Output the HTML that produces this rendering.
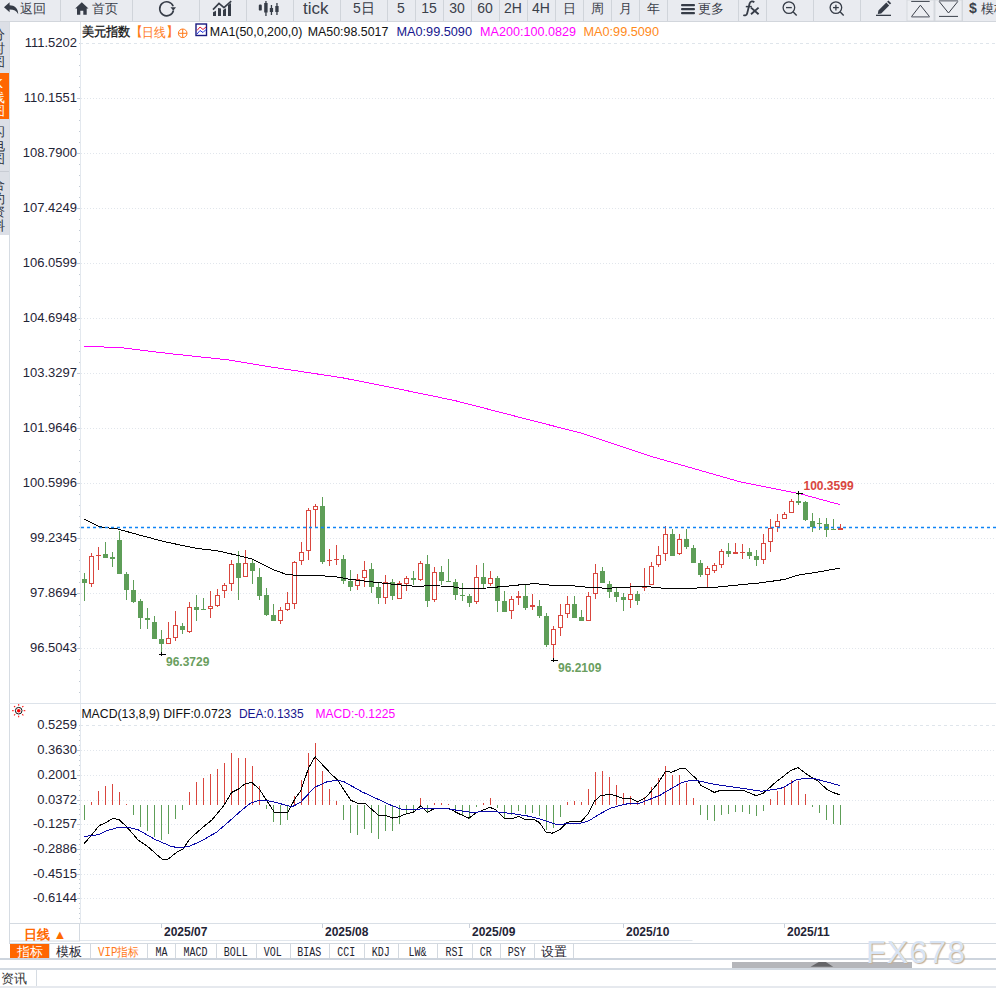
<!DOCTYPE html>
<html><head><meta charset="utf-8">
<style>
html,body{margin:0;padding:0;}
body{width:996px;height:988px;position:relative;overflow:hidden;background:#fff;font-family:"Liberation Sans", sans-serif;}
#tb{position:absolute;left:0;top:0;width:996px;height:21px;background:#e9ebf0;border-bottom:1px solid #d2d6dc;}
.sep{position:absolute;top:0;width:1px;height:21px;background:#d0d4da;}
.tbt{position:absolute;top:0;height:21px;line-height:17px;font-size:13px;color:#3b404a;white-space:nowrap;}
#side{position:absolute;left:0;top:22px;width:9px;height:213px;background:#dcdfe6;overflow:hidden;}
.tab{position:absolute;left:-9px;width:15px;font-size:13px;line-height:13.5px;color:#2a2f3a;text-align:center;}
svg text.ax{font-size:13px;fill:#1f2436;}
svg text.tt{font-size:13px;}
svg text.lbl{font-size:12px;font-weight:bold;}
svg text.xl{font-size:12px;font-weight:bold;fill:#1f2436;}
svg text.rx{font-size:13px;font-weight:bold;fill:#ff6a00;}
#btabs{position:absolute;left:9px;top:943px;width:987px;height:15px;border-top:1px solid #d3d9e0;border-bottom:1px solid #c9d0d8;background:#fff;}
.bt{position:absolute;top:0;height:15px;line-height:15px;font-size:12px;text-align:center;color:#1e2330;border-right:1px solid #d3d9e0;font-family:"Liberation Mono",monospace;}
</style></head><body>
<div id="tb">
<div class="sep" style="left:60px"></div><div class="sep" style="left:132px"></div><div class="sep" style="left:199px"></div><div class="sep" style="left:246px"></div><div class="sep" style="left:293px"></div><div class="sep" style="left:340px"></div><div class="sep" style="left:387px"></div><div class="sep" style="left:415px"></div><div class="sep" style="left:443px"></div><div class="sep" style="left:471px"></div><div class="sep" style="left:499px"></div><div class="sep" style="left:527px"></div><div class="sep" style="left:555px"></div><div class="sep" style="left:583px"></div><div class="sep" style="left:611px"></div><div class="sep" style="left:639px"></div><div class="sep" style="left:667px"></div><div class="sep" style="left:738px"></div><div class="sep" style="left:766px"></div><div class="sep" style="left:813px"></div><div class="sep" style="left:860px"></div><div class="sep" style="left:907px"></div><div class="sep" style="left:934px"></div><div class="sep" style="left:962px"></div>
<svg style="position:absolute;left:0;top:0" width="996" height="21">
 <path d="M4,7.3 L9.6,2.3 L9.6,5.2 C14.5,5.2 18.2,8 18.2,14.2 C16.5,11 14,9.6 9.6,9.6 L9.6,12.3 Z" fill="#363c47"/>
 <path d="M75.2,8.6 L81.8,2.2 L88.5,8.6 L86.7,8.6 L86.7,14.7 L83.3,14.7 L83.3,10.8 L80.3,10.8 L80.3,14.7 L77,14.7 L77,8.6 Z" fill="#363c47"/>
 <path d="M173.2,6.2 A7,7 0 1 0 173.5,10.5" fill="none" stroke="#363c47" stroke-width="1.6"/>
 <path d="M170.5,7.2 L176,7.2 L173.3,10.8 Z" fill="#363c47"/>
 <path d="M213,16 L213,12.3 L216,10.8 L216,16 Z M218,16 L218,8 L221,8.5 L221,16 Z M223,16 L223,10 L226,8.2 L226,16 Z M228,16 L228,5 L231,3 L231,16 Z" fill="#363c47"/>
 <polyline points="213,9.6 219,3.4 224,7.6 231.2,1.2" fill="none" stroke="#363c47" stroke-width="1.6"/>
 <rect x="258.8" y="4.6" width="3" height="6" rx="1.2" fill="#363c47"/>
 <rect x="265.3" y="1" width="1.3" height="15" fill="#363c47"/><rect x="264.2" y="3" width="3.4" height="9.5" fill="#363c47"/>
 <rect x="270.8" y="5" width="1.3" height="10" fill="#363c47"/><rect x="269.8" y="8" width="3.3" height="4" fill="#363c47"/>
 <rect x="276.3" y="3" width="1.3" height="12" fill="#363c47"/><rect x="275.3" y="6" width="3.3" height="6" fill="#363c47"/>
 <path d="M754.2,2.4 C753,0.9 750.3,1 749.6,3.6 L747.2,13.2 C746.6,15.4 745,15.9 743.4,14.9" fill="none" stroke="#363c47" stroke-width="1.8"/><line x1="745.8" y1="6.6" x2="751.8" y2="6.6" stroke="#363c47" stroke-width="1.5"/><path d="M751,7.6 L758.6,14.2 M758.6,7.6 L751,14.2" stroke="#363c47" stroke-width="1.9"/>
 <rect x="681" y="4" width="14" height="2.2" rx="1" fill="#363c47"/><rect x="681" y="8" width="14" height="2.2" rx="1" fill="#363c47"/><rect x="681" y="12" width="14" height="2.2" rx="1" fill="#363c47"/>
 <circle cx="788.9" cy="7.6" r="5.8" fill="none" stroke="#363c47" stroke-width="1.3"/><line x1="786" y1="7.6" x2="791.8" y2="7.6" stroke="#363c47" stroke-width="1.3"/><line x1="793" y1="11.8" x2="796.7" y2="15.6" stroke="#363c47" stroke-width="1.4"/>
 <circle cx="835.9" cy="7.6" r="5.8" fill="none" stroke="#363c47" stroke-width="1.3"/><line x1="833" y1="7.6" x2="838.8" y2="7.6" stroke="#363c47" stroke-width="1.3"/><line x1="835.9" y1="4.7" x2="835.9" y2="10.5" stroke="#363c47" stroke-width="1.3"/><line x1="840" y1="11.8" x2="843.7" y2="15.6" stroke="#363c47" stroke-width="1.4"/>
 <path d="M877.8,14 L878.4,10.6 L886.3,2.6 L889.2,5.4 L881.2,13.4 Z M887.1,1.8 L888.4,0.5 L891.2,3.3 L889.9,4.6 Z" fill="#363c47"/><rect x="876" y="14.7" width="15" height="1.3" fill="#363c47"/>
 <rect x="907" y="0" width="27" height="21" fill="#eceef2" stroke="#d6d9de"/>
 <rect x="935" y="0" width="27" height="21" fill="#eceef2" stroke="#d6d9de"/>
 <line x1="911.2" y1="1.4" x2="929.7" y2="1.4" stroke="#3b404a" stroke-width="1"/>
 <path d="M911.5,16.6 L920.4,5.2 L929.5,16.6 Z" fill="none" stroke="#3b404a" stroke-width="1"/><line x1="911.5" y1="16.8" x2="929.5" y2="16.8" stroke="#8a8e96" stroke-width="1.6"/>
 <line x1="939" y1="0.8" x2="958" y2="0.8" stroke="#8a8e96" stroke-width="1.6"/>
 <path d="M939.2,1.5 L948.5,13 L957.8,1.5" fill="none" stroke="#3b404a" stroke-width="1"/><line x1="939" y1="16.4" x2="958" y2="16.4" stroke="#3b404a" stroke-width="1"/>
</svg>
<div class="tbt" style="left:20px;width:26px">返回</div>
<div class="tbt" style="left:92px">首页</div>
<div class="tbt" style="left:303px;font-size:17px;top:0px">tick</div>
<div class="tbt" style="left:353px;font-size:14px">5日</div>
<div class="tbt" style="left:387px;width:28px;text-align:center;font-size:14px;line-height:17px">5</div><div class="tbt" style="left:415px;width:28px;text-align:center;font-size:14px;line-height:17px">15</div><div class="tbt" style="left:443px;width:28px;text-align:center;font-size:14px;line-height:17px">30</div><div class="tbt" style="left:471px;width:28px;text-align:center;font-size:14px;line-height:17px">60</div><div class="tbt" style="left:499px;width:28px;text-align:center;font-size:14px;line-height:17px">2H</div><div class="tbt" style="left:527px;width:28px;text-align:center;font-size:14px;line-height:17px">4H</div><div class="tbt" style="left:555px;width:28px;text-align:center;font-size:13px;line-height:18px">日</div><div class="tbt" style="left:583px;width:28px;text-align:center;font-size:13px;line-height:18px">周</div><div class="tbt" style="left:611px;width:28px;text-align:center;font-size:13px;line-height:18px">月</div><div class="tbt" style="left:639px;width:28px;text-align:center;font-size:13px;line-height:18px">年</div>
<div class="tbt" style="left:698px">更多</div>

<div class="tbt" style="left:969px;font-weight:bold;font-size:14px">$ <span style="font-weight:normal;font-size:13px">模板</span></div>
</div>
<div id="side">
 <div class="tab" style="top:6px">分<br>时<br>图</div>
 <div style="position:absolute;left:0;top:51px;width:9px;height:46px;background:#ff6600"></div>
 <div class="tab" style="top:55px;color:#fff">K<br>线<br>图</div>
 <div class="tab" style="top:103px">闪<br>电<br>图</div>
 <div style="position:absolute;left:0;top:149px;width:9px;height:1px;background:#c8ccd4"></div>
 <div class="tab" style="top:156px">合<br>约<br>资<br>料</div>
</div>
<div style="position:absolute;left:9px;top:22px;width:1px;height:937px;background:#d6dce3"></div>
<svg style="position:absolute;left:0;top:0" width="996" height="988">
<line x1="80" y1="43.5" x2="996" y2="43.5" stroke="#dfe5eb" stroke-width="1" stroke-dasharray="3 3"/>
<text x="77" y="47.0" text-anchor="end" class="ax">111.5202</text>
<line x1="81" y1="98.5" x2="996" y2="98.5" stroke="#e1e6ec" stroke-width="1" stroke-dasharray="1 2"/>
<text x="77" y="102.0" text-anchor="end" class="ax">110.1551</text>
<line x1="77" y1="98.5" x2="80" y2="98.5" stroke="#c5ccd6"/>
<line x1="81" y1="153.5" x2="996" y2="153.5" stroke="#e1e6ec" stroke-width="1" stroke-dasharray="1 2"/>
<text x="77" y="157.0" text-anchor="end" class="ax">108.7900</text>
<line x1="77" y1="153.5" x2="80" y2="153.5" stroke="#c5ccd6"/>
<line x1="81" y1="208.5" x2="996" y2="208.5" stroke="#e1e6ec" stroke-width="1" stroke-dasharray="1 2"/>
<text x="77" y="212.0" text-anchor="end" class="ax">107.4249</text>
<line x1="77" y1="208.5" x2="80" y2="208.5" stroke="#c5ccd6"/>
<line x1="81" y1="263.5" x2="996" y2="263.5" stroke="#e1e6ec" stroke-width="1" stroke-dasharray="1 2"/>
<text x="77" y="267.0" text-anchor="end" class="ax">106.0599</text>
<line x1="77" y1="263.5" x2="80" y2="263.5" stroke="#c5ccd6"/>
<line x1="81" y1="318.5" x2="996" y2="318.5" stroke="#e1e6ec" stroke-width="1" stroke-dasharray="1 2"/>
<text x="77" y="322.0" text-anchor="end" class="ax">104.6948</text>
<line x1="77" y1="318.5" x2="80" y2="318.5" stroke="#c5ccd6"/>
<line x1="81" y1="373.5" x2="996" y2="373.5" stroke="#e1e6ec" stroke-width="1" stroke-dasharray="1 2"/>
<text x="77" y="377.0" text-anchor="end" class="ax">103.3297</text>
<line x1="77" y1="373.5" x2="80" y2="373.5" stroke="#c5ccd6"/>
<line x1="81" y1="428.5" x2="996" y2="428.5" stroke="#e1e6ec" stroke-width="1" stroke-dasharray="1 2"/>
<text x="77" y="432.0" text-anchor="end" class="ax">101.9646</text>
<line x1="77" y1="428.5" x2="80" y2="428.5" stroke="#c5ccd6"/>
<line x1="81" y1="483.5" x2="996" y2="483.5" stroke="#e1e6ec" stroke-width="1" stroke-dasharray="1 2"/>
<text x="77" y="487.0" text-anchor="end" class="ax">100.5996</text>
<line x1="77" y1="483.5" x2="80" y2="483.5" stroke="#c5ccd6"/>
<line x1="81" y1="538.5" x2="996" y2="538.5" stroke="#e1e6ec" stroke-width="1" stroke-dasharray="1 2"/>
<text x="77" y="542.0" text-anchor="end" class="ax">99.2345</text>
<line x1="77" y1="538.5" x2="80" y2="538.5" stroke="#c5ccd6"/>
<line x1="81" y1="593.5" x2="996" y2="593.5" stroke="#e1e6ec" stroke-width="1" stroke-dasharray="1 2"/>
<text x="77" y="597.0" text-anchor="end" class="ax">97.8694</text>
<line x1="77" y1="593.5" x2="80" y2="593.5" stroke="#c5ccd6"/>
<line x1="81" y1="648.5" x2="996" y2="648.5" stroke="#e1e6ec" stroke-width="1" stroke-dasharray="1 2"/>
<text x="77" y="652.0" text-anchor="end" class="ax">96.5043</text>
<line x1="77" y1="648.5" x2="80" y2="648.5" stroke="#c5ccd6"/>
<rect x="79" y="43.0" width="1" height="1" fill="#c2cad4"/>
<rect x="79" y="54.0" width="1" height="1" fill="#c2cad4"/>
<rect x="79" y="65.0" width="1" height="1" fill="#c2cad4"/>
<rect x="79" y="76.0" width="1" height="1" fill="#c2cad4"/>
<rect x="79" y="87.0" width="1" height="1" fill="#c2cad4"/>
<rect x="79" y="98.0" width="1" height="1" fill="#c2cad4"/>
<rect x="79" y="109.0" width="1" height="1" fill="#c2cad4"/>
<rect x="79" y="120.0" width="1" height="1" fill="#c2cad4"/>
<rect x="79" y="131.0" width="1" height="1" fill="#c2cad4"/>
<rect x="79" y="142.0" width="1" height="1" fill="#c2cad4"/>
<rect x="79" y="153.0" width="1" height="1" fill="#c2cad4"/>
<rect x="79" y="164.0" width="1" height="1" fill="#c2cad4"/>
<rect x="79" y="175.0" width="1" height="1" fill="#c2cad4"/>
<rect x="79" y="186.0" width="1" height="1" fill="#c2cad4"/>
<rect x="79" y="197.0" width="1" height="1" fill="#c2cad4"/>
<rect x="79" y="208.0" width="1" height="1" fill="#c2cad4"/>
<rect x="79" y="219.0" width="1" height="1" fill="#c2cad4"/>
<rect x="79" y="230.0" width="1" height="1" fill="#c2cad4"/>
<rect x="79" y="241.0" width="1" height="1" fill="#c2cad4"/>
<rect x="79" y="252.0" width="1" height="1" fill="#c2cad4"/>
<rect x="79" y="263.0" width="1" height="1" fill="#c2cad4"/>
<rect x="79" y="274.0" width="1" height="1" fill="#c2cad4"/>
<rect x="79" y="285.0" width="1" height="1" fill="#c2cad4"/>
<rect x="79" y="296.0" width="1" height="1" fill="#c2cad4"/>
<rect x="79" y="307.0" width="1" height="1" fill="#c2cad4"/>
<rect x="79" y="318.0" width="1" height="1" fill="#c2cad4"/>
<rect x="79" y="329.0" width="1" height="1" fill="#c2cad4"/>
<rect x="79" y="340.0" width="1" height="1" fill="#c2cad4"/>
<rect x="79" y="351.0" width="1" height="1" fill="#c2cad4"/>
<rect x="79" y="362.0" width="1" height="1" fill="#c2cad4"/>
<rect x="79" y="373.0" width="1" height="1" fill="#c2cad4"/>
<rect x="79" y="384.0" width="1" height="1" fill="#c2cad4"/>
<rect x="79" y="395.0" width="1" height="1" fill="#c2cad4"/>
<rect x="79" y="406.0" width="1" height="1" fill="#c2cad4"/>
<rect x="79" y="417.0" width="1" height="1" fill="#c2cad4"/>
<rect x="79" y="428.0" width="1" height="1" fill="#c2cad4"/>
<rect x="79" y="439.0" width="1" height="1" fill="#c2cad4"/>
<rect x="79" y="450.0" width="1" height="1" fill="#c2cad4"/>
<rect x="79" y="461.0" width="1" height="1" fill="#c2cad4"/>
<rect x="79" y="472.0" width="1" height="1" fill="#c2cad4"/>
<rect x="79" y="483.0" width="1" height="1" fill="#c2cad4"/>
<rect x="79" y="494.0" width="1" height="1" fill="#c2cad4"/>
<rect x="79" y="505.0" width="1" height="1" fill="#c2cad4"/>
<rect x="79" y="516.0" width="1" height="1" fill="#c2cad4"/>
<rect x="79" y="527.0" width="1" height="1" fill="#c2cad4"/>
<rect x="79" y="538.0" width="1" height="1" fill="#c2cad4"/>
<rect x="79" y="549.0" width="1" height="1" fill="#c2cad4"/>
<rect x="79" y="560.0" width="1" height="1" fill="#c2cad4"/>
<rect x="79" y="571.0" width="1" height="1" fill="#c2cad4"/>
<rect x="79" y="582.0" width="1" height="1" fill="#c2cad4"/>
<rect x="79" y="593.0" width="1" height="1" fill="#c2cad4"/>
<rect x="79" y="604.0" width="1" height="1" fill="#c2cad4"/>
<rect x="79" y="615.0" width="1" height="1" fill="#c2cad4"/>
<rect x="79" y="626.0" width="1" height="1" fill="#c2cad4"/>
<rect x="79" y="637.0" width="1" height="1" fill="#c2cad4"/>
<rect x="79" y="648.0" width="1" height="1" fill="#c2cad4"/>
<rect x="79" y="659.0" width="1" height="1" fill="#c2cad4"/>
<rect x="79" y="670.0" width="1" height="1" fill="#c2cad4"/>
<rect x="79" y="681.0" width="1" height="1" fill="#c2cad4"/>
<rect x="79" y="692.0" width="1" height="1" fill="#c2cad4"/>
<line x1="80" y1="725.5" x2="996" y2="725.5" stroke="#dfe5eb" stroke-width="1" stroke-dasharray="3 3"/>
<text x="77" y="729.0" text-anchor="end" class="ax">0.5259</text>
<line x1="81" y1="750.5" x2="996" y2="750.5" stroke="#e1e6ec" stroke-width="1" stroke-dasharray="1 2"/>
<text x="77" y="754.0" text-anchor="end" class="ax">0.3630</text>
<line x1="77" y1="750.5" x2="80" y2="750.5" stroke="#c5ccd6"/>
<line x1="81" y1="775.5" x2="996" y2="775.5" stroke="#e1e6ec" stroke-width="1" stroke-dasharray="1 2"/>
<text x="77" y="779.0" text-anchor="end" class="ax">0.2001</text>
<line x1="77" y1="775.5" x2="80" y2="775.5" stroke="#c5ccd6"/>
<line x1="81" y1="800.5" x2="996" y2="800.5" stroke="#e1e6ec" stroke-width="1" stroke-dasharray="1 2"/>
<text x="77" y="804.0" text-anchor="end" class="ax">0.0372</text>
<line x1="77" y1="800.5" x2="80" y2="800.5" stroke="#c5ccd6"/>
<line x1="81" y1="824.5" x2="996" y2="824.5" stroke="#e1e6ec" stroke-width="1" stroke-dasharray="1 2"/>
<text x="77" y="828.0" text-anchor="end" class="ax">-0.1257</text>
<line x1="77" y1="824.5" x2="80" y2="824.5" stroke="#c5ccd6"/>
<line x1="81" y1="849.5" x2="996" y2="849.5" stroke="#e1e6ec" stroke-width="1" stroke-dasharray="1 2"/>
<text x="77" y="853.0" text-anchor="end" class="ax">-0.2886</text>
<line x1="77" y1="849.5" x2="80" y2="849.5" stroke="#c5ccd6"/>
<line x1="81" y1="874.5" x2="996" y2="874.5" stroke="#e1e6ec" stroke-width="1" stroke-dasharray="1 2"/>
<text x="77" y="878.0" text-anchor="end" class="ax">-0.4515</text>
<line x1="77" y1="874.5" x2="80" y2="874.5" stroke="#c5ccd6"/>
<line x1="81" y1="898.5" x2="996" y2="898.5" stroke="#e1e6ec" stroke-width="1" stroke-dasharray="1 2"/>
<text x="77" y="902.0" text-anchor="end" class="ax">-0.6144</text>
<line x1="77" y1="898.5" x2="80" y2="898.5" stroke="#c5ccd6"/>
<rect x="79" y="725.0" width="1" height="1" fill="#c2cad4"/>
<rect x="79" y="730.0" width="1" height="1" fill="#c2cad4"/>
<rect x="79" y="735.0" width="1" height="1" fill="#c2cad4"/>
<rect x="79" y="740.0" width="1" height="1" fill="#c2cad4"/>
<rect x="79" y="745.0" width="1" height="1" fill="#c2cad4"/>
<rect x="79" y="750.0" width="1" height="1" fill="#c2cad4"/>
<rect x="79" y="755.0" width="1" height="1" fill="#c2cad4"/>
<rect x="79" y="760.0" width="1" height="1" fill="#c2cad4"/>
<rect x="79" y="765.0" width="1" height="1" fill="#c2cad4"/>
<rect x="79" y="770.0" width="1" height="1" fill="#c2cad4"/>
<rect x="79" y="775.0" width="1" height="1" fill="#c2cad4"/>
<rect x="79" y="780.0" width="1" height="1" fill="#c2cad4"/>
<rect x="79" y="785.0" width="1" height="1" fill="#c2cad4"/>
<rect x="79" y="790.0" width="1" height="1" fill="#c2cad4"/>
<rect x="79" y="795.0" width="1" height="1" fill="#c2cad4"/>
<rect x="79" y="800.0" width="1" height="1" fill="#c2cad4"/>
<rect x="79" y="804.0" width="1" height="1" fill="#c2cad4"/>
<rect x="79" y="809.0" width="1" height="1" fill="#c2cad4"/>
<rect x="79" y="814.0" width="1" height="1" fill="#c2cad4"/>
<rect x="79" y="819.0" width="1" height="1" fill="#c2cad4"/>
<rect x="79" y="824.0" width="1" height="1" fill="#c2cad4"/>
<rect x="79" y="829.0" width="1" height="1" fill="#c2cad4"/>
<rect x="79" y="834.0" width="1" height="1" fill="#c2cad4"/>
<rect x="79" y="839.0" width="1" height="1" fill="#c2cad4"/>
<rect x="79" y="844.0" width="1" height="1" fill="#c2cad4"/>
<rect x="79" y="849.0" width="1" height="1" fill="#c2cad4"/>
<rect x="79" y="854.0" width="1" height="1" fill="#c2cad4"/>
<rect x="79" y="859.0" width="1" height="1" fill="#c2cad4"/>
<rect x="79" y="864.0" width="1" height="1" fill="#c2cad4"/>
<rect x="79" y="869.0" width="1" height="1" fill="#c2cad4"/>
<rect x="79" y="874.0" width="1" height="1" fill="#c2cad4"/>
<rect x="79" y="879.0" width="1" height="1" fill="#c2cad4"/>
<rect x="79" y="883.0" width="1" height="1" fill="#c2cad4"/>
<rect x="79" y="888.0" width="1" height="1" fill="#c2cad4"/>
<rect x="79" y="893.0" width="1" height="1" fill="#c2cad4"/>
<rect x="79" y="898.0" width="1" height="1" fill="#c2cad4"/>
<rect x="79" y="903.0" width="1" height="1" fill="#c2cad4"/>
<rect x="79" y="908.0" width="1" height="1" fill="#c2cad4"/>
<rect x="79" y="913.0" width="1" height="1" fill="#c2cad4"/>
<rect x="79" y="918.0" width="1" height="1" fill="#c2cad4"/>
<line x1="80.5" y1="22" x2="80.5" y2="923" stroke="#e3e8ee"/>
<line x1="9" y1="703.5" x2="996" y2="703.5" stroke="#dde3ea"/>
<rect x="82.0" y="579" width="5" height="4" fill="#5e9e58"/>
<rect x="84.0" y="573" width="1" height="6" fill="#5e9e58"/>
<rect x="84.0" y="583" width="1" height="18" fill="#5e9e58"/>
<rect x="89.5" y="556.5" width="4" height="27" fill="none" stroke="#d9463e" stroke-width="1"/>
<rect x="91.0" y="553" width="1" height="3" fill="#d9463e"/>
<rect x="91.0" y="584" width="1" height="3" fill="#d9463e"/>
<rect x="96.0" y="555" width="5" height="1" fill="#d9463e"/>
<rect x="98.0" y="547" width="1" height="8" fill="#d9463e"/>
<rect x="98.0" y="556" width="1" height="14" fill="#d9463e"/>
<rect x="103.0" y="554" width="5" height="4" fill="#5e9e58"/>
<rect x="105.0" y="542" width="1" height="12" fill="#5e9e58"/>
<rect x="110.0" y="557" width="5" height="2" fill="#5e9e58"/>
<rect x="112.0" y="552" width="1" height="5" fill="#5e9e58"/>
<rect x="112.0" y="559" width="1" height="8" fill="#5e9e58"/>
<rect x="117.0" y="540" width="5" height="34" fill="#5e9e58"/>
<rect x="119.0" y="531" width="1" height="9" fill="#5e9e58"/>
<rect x="124.0" y="574" width="5" height="16" fill="#5e9e58"/>
<rect x="126.0" y="572" width="1" height="2" fill="#5e9e58"/>
<rect x="126.0" y="590" width="1" height="10" fill="#5e9e58"/>
<rect x="131.0" y="590" width="5" height="12" fill="#5e9e58"/>
<rect x="133.0" y="580" width="1" height="10" fill="#5e9e58"/>
<rect x="133.0" y="602" width="1" height="1" fill="#5e9e58"/>
<rect x="138.0" y="601" width="5" height="17" fill="#5e9e58"/>
<rect x="140.0" y="599" width="1" height="2" fill="#5e9e58"/>
<rect x="140.0" y="618" width="1" height="11" fill="#5e9e58"/>
<rect x="145.0" y="618" width="5" height="2" fill="#5e9e58"/>
<rect x="147.0" y="608" width="1" height="10" fill="#5e9e58"/>
<rect x="147.0" y="620" width="1" height="9" fill="#5e9e58"/>
<rect x="152.0" y="622" width="5" height="17" fill="#5e9e58"/>
<rect x="154.0" y="616" width="1" height="6" fill="#5e9e58"/>
<rect x="159.0" y="639" width="5" height="5" fill="#5e9e58"/>
<rect x="161.0" y="630" width="1" height="9" fill="#5e9e58"/>
<rect x="161.0" y="644" width="1" height="10" fill="#5e9e58"/>
<rect x="166.5" y="638.5" width="4" height="5" fill="none" stroke="#d9463e" stroke-width="1"/>
<rect x="168.0" y="622" width="1" height="16" fill="#d9463e"/>
<rect x="173.5" y="625.5" width="4" height="12" fill="none" stroke="#d9463e" stroke-width="1"/>
<rect x="175.0" y="611" width="1" height="14" fill="#d9463e"/>
<rect x="175.0" y="638" width="1" height="3" fill="#d9463e"/>
<rect x="180.0" y="626" width="5" height="4" fill="#5e9e58"/>
<rect x="182.0" y="623" width="1" height="3" fill="#5e9e58"/>
<rect x="182.0" y="630" width="1" height="4" fill="#5e9e58"/>
<rect x="187.5" y="607.5" width="4" height="24" fill="none" stroke="#d9463e" stroke-width="1"/>
<rect x="189.0" y="602" width="1" height="5" fill="#d9463e"/>
<rect x="189.0" y="632" width="1" height="1" fill="#d9463e"/>
<rect x="194.0" y="607" width="5" height="3" fill="#5e9e58"/>
<rect x="196.0" y="595" width="1" height="12" fill="#5e9e58"/>
<rect x="196.0" y="610" width="1" height="11" fill="#5e9e58"/>
<rect x="201.0" y="609" width="5" height="1" fill="#5e9e58"/>
<rect x="203.0" y="598" width="1" height="11" fill="#5e9e58"/>
<rect x="208.5" y="606.5" width="4" height="2" fill="none" stroke="#d9463e" stroke-width="1"/>
<rect x="210.0" y="591" width="1" height="15" fill="#d9463e"/>
<rect x="210.0" y="609" width="1" height="9" fill="#d9463e"/>
<rect x="215.5" y="595.5" width="4" height="10" fill="none" stroke="#d9463e" stroke-width="1"/>
<rect x="217.0" y="589" width="1" height="6" fill="#d9463e"/>
<rect x="217.0" y="606" width="1" height="1" fill="#d9463e"/>
<rect x="222.5" y="585.5" width="4" height="5" fill="none" stroke="#d9463e" stroke-width="1"/>
<rect x="224.0" y="583" width="1" height="2" fill="#d9463e"/>
<rect x="224.0" y="591" width="1" height="7" fill="#d9463e"/>
<rect x="229.5" y="564.5" width="4" height="19" fill="none" stroke="#d9463e" stroke-width="1"/>
<rect x="231.0" y="560" width="1" height="4" fill="#d9463e"/>
<rect x="231.0" y="584" width="1" height="7" fill="#d9463e"/>
<rect x="236.0" y="563" width="5" height="15" fill="#5e9e58"/>
<rect x="238.0" y="551" width="1" height="12" fill="#5e9e58"/>
<rect x="238.0" y="578" width="1" height="22" fill="#5e9e58"/>
<rect x="243.5" y="563.5" width="4" height="13" fill="none" stroke="#d9463e" stroke-width="1"/>
<rect x="245.0" y="550" width="1" height="13" fill="#d9463e"/>
<rect x="250.0" y="563" width="5" height="8" fill="#5e9e58"/>
<rect x="252.0" y="560" width="1" height="3" fill="#5e9e58"/>
<rect x="252.0" y="571" width="1" height="13" fill="#5e9e58"/>
<rect x="257.0" y="577" width="5" height="19" fill="#5e9e58"/>
<rect x="259.0" y="568" width="1" height="9" fill="#5e9e58"/>
<rect x="259.0" y="596" width="1" height="4" fill="#5e9e58"/>
<rect x="264.0" y="595" width="5" height="20" fill="#5e9e58"/>
<rect x="266.0" y="588" width="1" height="7" fill="#5e9e58"/>
<rect x="266.0" y="615" width="1" height="1" fill="#5e9e58"/>
<rect x="271.0" y="615" width="5" height="6" fill="#5e9e58"/>
<rect x="273.0" y="604" width="1" height="11" fill="#5e9e58"/>
<rect x="278.5" y="610.5" width="4" height="10" fill="none" stroke="#d9463e" stroke-width="1"/>
<rect x="280.0" y="607" width="1" height="3" fill="#d9463e"/>
<rect x="280.0" y="621" width="1" height="3" fill="#d9463e"/>
<rect x="285.5" y="603.5" width="4" height="6" fill="none" stroke="#d9463e" stroke-width="1"/>
<rect x="287.0" y="592" width="1" height="11" fill="#d9463e"/>
<rect x="287.0" y="610" width="1" height="1" fill="#d9463e"/>
<rect x="292.5" y="562.5" width="4" height="41" fill="none" stroke="#d9463e" stroke-width="1"/>
<rect x="294.0" y="561" width="1" height="1" fill="#d9463e"/>
<rect x="294.0" y="604" width="1" height="5" fill="#d9463e"/>
<rect x="299.5" y="552.5" width="4" height="8" fill="none" stroke="#d9463e" stroke-width="1"/>
<rect x="301.0" y="542" width="1" height="10" fill="#d9463e"/>
<rect x="301.0" y="561" width="1" height="4" fill="#d9463e"/>
<rect x="306.5" y="510.5" width="4" height="40" fill="none" stroke="#d9463e" stroke-width="1"/>
<rect x="308.0" y="508" width="1" height="2" fill="#d9463e"/>
<rect x="308.0" y="551" width="1" height="9" fill="#d9463e"/>
<rect x="313.5" y="506.5" width="4" height="3" fill="none" stroke="#d9463e" stroke-width="1"/>
<rect x="315.0" y="504" width="1" height="2" fill="#d9463e"/>
<rect x="315.0" y="510" width="1" height="17" fill="#d9463e"/>
<rect x="320.0" y="506" width="5" height="56" fill="#5e9e58"/>
<rect x="322.0" y="497" width="1" height="9" fill="#5e9e58"/>
<rect x="322.0" y="562" width="1" height="2" fill="#5e9e58"/>
<rect x="327.0" y="560" width="5" height="1" fill="#d9463e"/>
<rect x="329.0" y="549" width="1" height="11" fill="#d9463e"/>
<rect x="329.0" y="561" width="1" height="5" fill="#d9463e"/>
<rect x="334.0" y="559" width="5" height="1" fill="#d9463e"/>
<rect x="336.0" y="545" width="1" height="14" fill="#d9463e"/>
<rect x="336.0" y="560" width="1" height="5" fill="#d9463e"/>
<rect x="341.0" y="559" width="5" height="22" fill="#5e9e58"/>
<rect x="343.0" y="555" width="1" height="4" fill="#5e9e58"/>
<rect x="343.0" y="581" width="1" height="3" fill="#5e9e58"/>
<rect x="348.0" y="581" width="5" height="6" fill="#5e9e58"/>
<rect x="350.0" y="570" width="1" height="11" fill="#5e9e58"/>
<rect x="350.0" y="587" width="1" height="4" fill="#5e9e58"/>
<rect x="355.5" y="579.5" width="4" height="6" fill="none" stroke="#d9463e" stroke-width="1"/>
<rect x="357.0" y="574" width="1" height="5" fill="#d9463e"/>
<rect x="357.0" y="586" width="1" height="4" fill="#d9463e"/>
<rect x="362.5" y="570.5" width="4" height="7" fill="none" stroke="#d9463e" stroke-width="1"/>
<rect x="364.0" y="561" width="1" height="9" fill="#d9463e"/>
<rect x="364.0" y="578" width="1" height="9" fill="#d9463e"/>
<rect x="369.0" y="569" width="5" height="18" fill="#5e9e58"/>
<rect x="371.0" y="563" width="1" height="6" fill="#5e9e58"/>
<rect x="371.0" y="587" width="1" height="6" fill="#5e9e58"/>
<rect x="376.0" y="587" width="5" height="11" fill="#5e9e58"/>
<rect x="378.0" y="583" width="1" height="4" fill="#5e9e58"/>
<rect x="378.0" y="598" width="1" height="6" fill="#5e9e58"/>
<rect x="383.5" y="582.5" width="4" height="15" fill="none" stroke="#d9463e" stroke-width="1"/>
<rect x="385.0" y="575" width="1" height="7" fill="#d9463e"/>
<rect x="385.0" y="598" width="1" height="6" fill="#d9463e"/>
<rect x="390.0" y="582" width="5" height="14" fill="#5e9e58"/>
<rect x="392.0" y="579" width="1" height="3" fill="#5e9e58"/>
<rect x="392.0" y="596" width="1" height="4" fill="#5e9e58"/>
<rect x="397.5" y="583.5" width="4" height="15" fill="none" stroke="#d9463e" stroke-width="1"/>
<rect x="399.0" y="581" width="1" height="2" fill="#d9463e"/>
<rect x="404.5" y="578.5" width="4" height="5" fill="none" stroke="#d9463e" stroke-width="1"/>
<rect x="406.0" y="576" width="1" height="2" fill="#d9463e"/>
<rect x="406.0" y="584" width="1" height="7" fill="#d9463e"/>
<rect x="411.0" y="578" width="5" height="2" fill="#5e9e58"/>
<rect x="413.0" y="571" width="1" height="7" fill="#5e9e58"/>
<rect x="413.0" y="580" width="1" height="5" fill="#5e9e58"/>
<rect x="418.5" y="563.5" width="4" height="16" fill="none" stroke="#d9463e" stroke-width="1"/>
<rect x="420.0" y="561" width="1" height="2" fill="#d9463e"/>
<rect x="420.0" y="580" width="1" height="1" fill="#d9463e"/>
<rect x="425.0" y="564" width="5" height="37" fill="#5e9e58"/>
<rect x="427.0" y="555" width="1" height="9" fill="#5e9e58"/>
<rect x="427.0" y="601" width="1" height="6" fill="#5e9e58"/>
<rect x="432.5" y="572.5" width="4" height="27" fill="none" stroke="#d9463e" stroke-width="1"/>
<rect x="434.0" y="567" width="1" height="5" fill="#d9463e"/>
<rect x="434.0" y="600" width="1" height="2" fill="#d9463e"/>
<rect x="439.0" y="572" width="5" height="9" fill="#5e9e58"/>
<rect x="441.0" y="566" width="1" height="6" fill="#5e9e58"/>
<rect x="441.0" y="581" width="1" height="4" fill="#5e9e58"/>
<rect x="446.0" y="581" width="5" height="1" fill="#5e9e58"/>
<rect x="448.0" y="559" width="1" height="22" fill="#5e9e58"/>
<rect x="453.0" y="582" width="5" height="13" fill="#5e9e58"/>
<rect x="455.0" y="579" width="1" height="3" fill="#5e9e58"/>
<rect x="455.0" y="595" width="1" height="5" fill="#5e9e58"/>
<rect x="460.0" y="595" width="5" height="1" fill="#5e9e58"/>
<rect x="462.0" y="583" width="1" height="12" fill="#5e9e58"/>
<rect x="462.0" y="596" width="1" height="5" fill="#5e9e58"/>
<rect x="467.0" y="596" width="5" height="7" fill="#5e9e58"/>
<rect x="469.0" y="594" width="1" height="2" fill="#5e9e58"/>
<rect x="469.0" y="603" width="1" height="4" fill="#5e9e58"/>
<rect x="474.5" y="577.5" width="4" height="24" fill="none" stroke="#d9463e" stroke-width="1"/>
<rect x="476.0" y="565" width="1" height="12" fill="#d9463e"/>
<rect x="476.0" y="602" width="1" height="2" fill="#d9463e"/>
<rect x="481.0" y="577" width="5" height="7" fill="#5e9e58"/>
<rect x="483.0" y="563" width="1" height="14" fill="#5e9e58"/>
<rect x="483.0" y="584" width="1" height="4" fill="#5e9e58"/>
<rect x="488.5" y="578.5" width="4" height="5" fill="none" stroke="#d9463e" stroke-width="1"/>
<rect x="490.0" y="571" width="1" height="7" fill="#d9463e"/>
<rect x="490.0" y="584" width="1" height="2" fill="#d9463e"/>
<rect x="495.0" y="578" width="5" height="23" fill="#5e9e58"/>
<rect x="497.0" y="576" width="1" height="2" fill="#5e9e58"/>
<rect x="497.0" y="601" width="1" height="11" fill="#5e9e58"/>
<rect x="502.0" y="601" width="5" height="11" fill="#5e9e58"/>
<rect x="504.0" y="591" width="1" height="10" fill="#5e9e58"/>
<rect x="509.5" y="599.5" width="4" height="11" fill="none" stroke="#d9463e" stroke-width="1"/>
<rect x="511.0" y="596" width="1" height="3" fill="#d9463e"/>
<rect x="511.0" y="611" width="1" height="8" fill="#d9463e"/>
<rect x="516.0" y="596" width="5" height="2" fill="#d9463e"/>
<rect x="518.0" y="591" width="1" height="5" fill="#d9463e"/>
<rect x="518.0" y="598" width="1" height="7" fill="#d9463e"/>
<rect x="523.0" y="596" width="5" height="12" fill="#5e9e58"/>
<rect x="525.0" y="585" width="1" height="11" fill="#5e9e58"/>
<rect x="525.0" y="608" width="1" height="2" fill="#5e9e58"/>
<rect x="530.0" y="605" width="5" height="2" fill="#d9463e"/>
<rect x="532.0" y="594" width="1" height="11" fill="#d9463e"/>
<rect x="532.0" y="607" width="1" height="3" fill="#d9463e"/>
<rect x="537.0" y="606" width="5" height="10" fill="#5e9e58"/>
<rect x="539.0" y="600" width="1" height="6" fill="#5e9e58"/>
<rect x="539.0" y="616" width="1" height="2" fill="#5e9e58"/>
<rect x="544.0" y="616" width="5" height="29" fill="#5e9e58"/>
<rect x="546.0" y="613" width="1" height="3" fill="#5e9e58"/>
<rect x="546.0" y="645" width="1" height="2" fill="#5e9e58"/>
<rect x="551.5" y="629.5" width="4" height="15" fill="none" stroke="#d9463e" stroke-width="1"/>
<rect x="553.0" y="626" width="1" height="3" fill="#d9463e"/>
<rect x="553.0" y="645" width="1" height="15" fill="#d9463e"/>
<rect x="558.5" y="615.5" width="4" height="12" fill="none" stroke="#d9463e" stroke-width="1"/>
<rect x="560.0" y="604" width="1" height="11" fill="#d9463e"/>
<rect x="560.0" y="628" width="1" height="8" fill="#d9463e"/>
<rect x="565.5" y="604.5" width="4" height="9" fill="none" stroke="#d9463e" stroke-width="1"/>
<rect x="567.0" y="596" width="1" height="8" fill="#d9463e"/>
<rect x="567.0" y="614" width="1" height="4" fill="#d9463e"/>
<rect x="572.0" y="604" width="5" height="14" fill="#5e9e58"/>
<rect x="574.0" y="596" width="1" height="8" fill="#5e9e58"/>
<rect x="579.0" y="617" width="5" height="4" fill="#5e9e58"/>
<rect x="581.0" y="610" width="1" height="7" fill="#5e9e58"/>
<rect x="586.5" y="596.5" width="4" height="24" fill="none" stroke="#d9463e" stroke-width="1"/>
<rect x="588.0" y="592" width="1" height="4" fill="#d9463e"/>
<rect x="593.5" y="573.5" width="4" height="20" fill="none" stroke="#d9463e" stroke-width="1"/>
<rect x="595.0" y="564" width="1" height="9" fill="#d9463e"/>
<rect x="595.0" y="594" width="1" height="5" fill="#d9463e"/>
<rect x="600.0" y="571" width="5" height="12" fill="#5e9e58"/>
<rect x="602.0" y="567" width="1" height="4" fill="#5e9e58"/>
<rect x="607.0" y="584" width="5" height="8" fill="#5e9e58"/>
<rect x="609.0" y="581" width="1" height="3" fill="#5e9e58"/>
<rect x="609.0" y="592" width="1" height="6" fill="#5e9e58"/>
<rect x="614.0" y="592" width="5" height="5" fill="#5e9e58"/>
<rect x="616.0" y="588" width="1" height="4" fill="#5e9e58"/>
<rect x="616.0" y="597" width="1" height="5" fill="#5e9e58"/>
<rect x="621.0" y="597" width="5" height="3" fill="#5e9e58"/>
<rect x="623.0" y="593" width="1" height="4" fill="#5e9e58"/>
<rect x="623.0" y="600" width="1" height="11" fill="#5e9e58"/>
<rect x="628.5" y="594.5" width="4" height="5" fill="none" stroke="#d9463e" stroke-width="1"/>
<rect x="630.0" y="583" width="1" height="11" fill="#d9463e"/>
<rect x="630.0" y="600" width="1" height="8" fill="#d9463e"/>
<rect x="635.0" y="594" width="5" height="7" fill="#5e9e58"/>
<rect x="637.0" y="591" width="1" height="3" fill="#5e9e58"/>
<rect x="637.0" y="601" width="1" height="4" fill="#5e9e58"/>
<rect x="642.0" y="586" width="5" height="2" fill="#d9463e"/>
<rect x="644.0" y="568" width="1" height="18" fill="#d9463e"/>
<rect x="644.0" y="588" width="1" height="3" fill="#d9463e"/>
<rect x="649.5" y="566.5" width="4" height="18" fill="none" stroke="#d9463e" stroke-width="1"/>
<rect x="651.0" y="562" width="1" height="4" fill="#d9463e"/>
<rect x="656.5" y="555.5" width="4" height="9" fill="none" stroke="#d9463e" stroke-width="1"/>
<rect x="658.0" y="546" width="1" height="9" fill="#d9463e"/>
<rect x="658.0" y="565" width="1" height="2" fill="#d9463e"/>
<rect x="663.5" y="534.5" width="4" height="19" fill="none" stroke="#d9463e" stroke-width="1"/>
<rect x="665.0" y="526" width="1" height="8" fill="#d9463e"/>
<rect x="665.0" y="554" width="1" height="7" fill="#d9463e"/>
<rect x="670.0" y="534" width="5" height="22" fill="#5e9e58"/>
<rect x="672.0" y="529" width="1" height="5" fill="#5e9e58"/>
<rect x="677.5" y="539.5" width="4" height="14" fill="none" stroke="#d9463e" stroke-width="1"/>
<rect x="679.0" y="534" width="1" height="5" fill="#d9463e"/>
<rect x="679.0" y="554" width="1" height="1" fill="#d9463e"/>
<rect x="684.0" y="539" width="5" height="8" fill="#5e9e58"/>
<rect x="686.0" y="529" width="1" height="10" fill="#5e9e58"/>
<rect x="686.0" y="547" width="1" height="2" fill="#5e9e58"/>
<rect x="691.0" y="548" width="5" height="15" fill="#5e9e58"/>
<rect x="693.0" y="545" width="1" height="3" fill="#5e9e58"/>
<rect x="698.0" y="563" width="5" height="12" fill="#5e9e58"/>
<rect x="700.0" y="560" width="1" height="3" fill="#5e9e58"/>
<rect x="700.0" y="575" width="1" height="2" fill="#5e9e58"/>
<rect x="705.5" y="568.5" width="4" height="6" fill="none" stroke="#d9463e" stroke-width="1"/>
<rect x="707.0" y="566" width="1" height="2" fill="#d9463e"/>
<rect x="707.0" y="575" width="1" height="12" fill="#d9463e"/>
<rect x="712.5" y="565.5" width="4" height="5" fill="none" stroke="#d9463e" stroke-width="1"/>
<rect x="714.0" y="563" width="1" height="2" fill="#d9463e"/>
<rect x="714.0" y="571" width="1" height="2" fill="#d9463e"/>
<rect x="719.5" y="551.5" width="4" height="13" fill="none" stroke="#d9463e" stroke-width="1"/>
<rect x="721.0" y="549" width="1" height="2" fill="#d9463e"/>
<rect x="721.0" y="565" width="1" height="3" fill="#d9463e"/>
<rect x="726.0" y="551" width="5" height="3" fill="#5e9e58"/>
<rect x="728.0" y="543" width="1" height="8" fill="#5e9e58"/>
<rect x="728.0" y="554" width="1" height="3" fill="#5e9e58"/>
<rect x="733.0" y="552" width="5" height="2" fill="#d9463e"/>
<rect x="735.0" y="543" width="1" height="9" fill="#d9463e"/>
<rect x="740.0" y="552" width="5" height="1" fill="#d9463e"/>
<rect x="742.0" y="544" width="1" height="8" fill="#d9463e"/>
<rect x="742.0" y="553" width="1" height="6" fill="#d9463e"/>
<rect x="747.0" y="552" width="5" height="4" fill="#5e9e58"/>
<rect x="749.0" y="548" width="1" height="4" fill="#5e9e58"/>
<rect x="749.0" y="556" width="1" height="3" fill="#5e9e58"/>
<rect x="754.0" y="556" width="5" height="4" fill="#5e9e58"/>
<rect x="756.0" y="550" width="1" height="6" fill="#5e9e58"/>
<rect x="756.0" y="560" width="1" height="6" fill="#5e9e58"/>
<rect x="761.5" y="543.5" width="4" height="16" fill="none" stroke="#d9463e" stroke-width="1"/>
<rect x="763.0" y="534" width="1" height="9" fill="#d9463e"/>
<rect x="763.0" y="560" width="1" height="4" fill="#d9463e"/>
<rect x="768.5" y="528.5" width="4" height="13" fill="none" stroke="#d9463e" stroke-width="1"/>
<rect x="770.0" y="519" width="1" height="9" fill="#d9463e"/>
<rect x="770.0" y="542" width="1" height="10" fill="#d9463e"/>
<rect x="775.5" y="521.5" width="4" height="5" fill="none" stroke="#d9463e" stroke-width="1"/>
<rect x="777.0" y="514" width="1" height="7" fill="#d9463e"/>
<rect x="777.0" y="527" width="1" height="5" fill="#d9463e"/>
<rect x="782.5" y="514.5" width="4" height="4" fill="none" stroke="#d9463e" stroke-width="1"/>
<rect x="784.0" y="512" width="1" height="2" fill="#d9463e"/>
<rect x="789.5" y="501.5" width="4" height="11" fill="none" stroke="#d9463e" stroke-width="1"/>
<rect x="791.0" y="499" width="1" height="2" fill="#d9463e"/>
<rect x="796.0" y="501" width="5" height="2" fill="#5e9e58"/>
<rect x="798.0" y="492" width="1" height="9" fill="#5e9e58"/>
<rect x="798.0" y="503" width="1" height="2" fill="#5e9e58"/>
<rect x="803.0" y="502" width="5" height="18" fill="#5e9e58"/>
<rect x="805.0" y="501" width="1" height="1" fill="#5e9e58"/>
<rect x="805.0" y="520" width="1" height="1" fill="#5e9e58"/>
<rect x="810.0" y="521" width="5" height="6" fill="#5e9e58"/>
<rect x="812.0" y="513" width="1" height="8" fill="#5e9e58"/>
<rect x="812.0" y="527" width="1" height="5" fill="#5e9e58"/>
<rect x="817.0" y="523" width="5" height="1" fill="#5e9e58"/>
<rect x="819.0" y="518" width="1" height="5" fill="#5e9e58"/>
<rect x="819.0" y="524" width="1" height="6" fill="#5e9e58"/>
<rect x="824.0" y="524" width="5" height="6" fill="#5e9e58"/>
<rect x="826.0" y="518" width="1" height="6" fill="#5e9e58"/>
<rect x="826.0" y="530" width="1" height="7" fill="#5e9e58"/>
<rect x="831.0" y="529" width="5" height="1" fill="#5e9e58"/>
<rect x="833.0" y="519" width="1" height="10" fill="#5e9e58"/>
<rect x="838.0" y="528" width="5" height="2" fill="#d9463e"/>
<rect x="840.0" y="524" width="1" height="4" fill="#d9463e"/>
<polyline fill="none" stroke="#ff00ff" stroke-width="1" shape-rendering="crispEdges" points="83.4,346 122.7,347.9 170.4,353.7 227.6,359.8 265.8,366.2 342,377.7 399.3,389.1 455,400.6 530.3,420.1 582.5,433.4 650.8,456.3 739.2,481.6 799.4,493.6 839.6,504.5"/>
<polyline fill="none" stroke="#000" stroke-width="1" shape-rendering="crispEdges" points="84,519 98.5,526.3 104.5,527.5 117.8,529 138.2,534.7 162.3,541.1 186,546.3 198,548.6 216,550.5 236,555 252.5,559.2 272.3,569.3 286.4,574.4 297,575.4 333,576.2 340,577.5 350,579.3 368,581.5 382,583 396,584.6 409,585.6 416,586.5 431,585.6 452,586.5 460,588.3 487,588 494,587.3 507,586.2 514,585.4 528,584.2 535,583.6 550,585.1 571,585.1 578,586.6 598,587.7 606,588.3 620,587.6 641,586.3 655,587.3 669,589 690,588.3 716,587.2 739.6,584.8 759.5,583 784.8,579.4 797.5,575.2 817.4,572.2 840,568"/>
<line x1="81" y1="527.5" x2="996" y2="527.5" stroke="#0f84f5" stroke-width="1.3" stroke-dasharray="3 3"/>
<rect x="159.0" y="654.0" width="7" height="1" fill="#000"/><rect x="161.0" y="652.0" width="1" height="4" fill="#000"/>
<rect x="551.0" y="660.0" width="7" height="1" fill="#000"/><rect x="553.0" y="658.0" width="1" height="4" fill="#000"/>
<rect x="796.0" y="493.0" width="7" height="1" fill="#000"/><rect x="798.0" y="491.0" width="1" height="4" fill="#000"/>
<text x="166" y="665.5" class="lbl" fill="#6a9e5e">96.3729</text>
<text x="558" y="671.5" class="lbl" fill="#6a9e5e">96.2109</text>
<text x="803.5" y="489.5" class="lbl" fill="#d9463e">100.3599</text>
<circle cx="182.7" cy="33.3" r="4.3" fill="none" stroke="#ff7a1a" stroke-width="1"/><line x1="178.4" y1="33.3" x2="187" y2="33.3" stroke="#ff7a1a"/><line x1="182.7" y1="29" x2="182.7" y2="37.6" stroke="#ff7a1a"/>
<rect x="196" y="24" width="10.5" height="11.5" fill="#fff" stroke="#1a1a80" stroke-width="1.4"/><polyline points="197,30.5 200,27 203,29.5 206,27" fill="none" stroke="#e0203a" stroke-width="1"/><polyline points="197,34 200,30.5 203,32.5 206,29.5" fill="none" stroke="#2030e0" stroke-width="1"/>
<text x="81.5" y="36" class="tt" fill="#111" stroke="#111" stroke-width="0.3" textLength="49" lengthAdjust="spacingAndGlyphs">美元指数</text>
<text x="129.5" y="36" class="tt" fill="#ff7a1a">【</text><text x="142.3" y="36.5" class="tt" fill="#ff7a1a" textLength="23.6" lengthAdjust="spacingAndGlyphs">日线</text><text x="166" y="36" class="tt" fill="#ff7a1a">】</text>
<text x="209.8" y="35.5" class="tt" fill="#111" textLength="92.5" lengthAdjust="spacingAndGlyphs">MA1(50,0,200,0)</text>
<text x="307.8" y="35.5" class="tt" fill="#111" textLength="80.5" lengthAdjust="spacingAndGlyphs">MA50:98.5017</text>
<text x="396.5" y="35.5" class="tt" fill="#16168e" textLength="75.5" lengthAdjust="spacingAndGlyphs">MA0:99.5090</text>
<text x="480" y="35.5" class="tt" fill="#ff00ff" textLength="96" lengthAdjust="spacingAndGlyphs">MA200:100.0829</text>
<text x="583.5" y="35.5" class="tt" fill="#ff8a1a" textLength="75.5" lengthAdjust="spacingAndGlyphs">MA0:99.5090</text>
<rect x="84.0" y="805" width="1" height="15" fill="#5e9e58"/>
<rect x="91.0" y="802" width="1" height="3" fill="#d9463e"/>
<rect x="98.0" y="791" width="1" height="14" fill="#d9463e"/>
<rect x="105.0" y="786" width="1" height="19" fill="#d9463e"/>
<rect x="112.0" y="784" width="1" height="21" fill="#d9463e"/>
<rect x="119.0" y="792" width="1" height="13" fill="#d9463e"/>
<rect x="126.0" y="804" width="1" height="1" fill="#d9463e"/>
<rect x="133.0" y="805" width="1" height="10" fill="#5e9e58"/>
<rect x="140.0" y="805" width="1" height="22" fill="#5e9e58"/>
<rect x="147.0" y="805" width="1" height="26" fill="#5e9e58"/>
<rect x="154.0" y="805" width="1" height="32" fill="#5e9e58"/>
<rect x="161.0" y="805" width="1" height="35" fill="#5e9e58"/>
<rect x="168.0" y="805" width="1" height="29" fill="#5e9e58"/>
<rect x="175.0" y="805" width="1" height="14" fill="#5e9e58"/>
<rect x="182.0" y="805" width="1" height="5" fill="#5e9e58"/>
<rect x="189.0" y="792" width="1" height="13" fill="#d9463e"/>
<rect x="196.0" y="782" width="1" height="23" fill="#d9463e"/>
<rect x="203.0" y="778" width="1" height="27" fill="#d9463e"/>
<rect x="210.0" y="774" width="1" height="31" fill="#d9463e"/>
<rect x="217.0" y="769" width="1" height="36" fill="#d9463e"/>
<rect x="224.0" y="763" width="1" height="42" fill="#d9463e"/>
<rect x="231.0" y="753" width="1" height="52" fill="#d9463e"/>
<rect x="238.0" y="758" width="1" height="47" fill="#d9463e"/>
<rect x="245.0" y="758" width="1" height="47" fill="#d9463e"/>
<rect x="252.0" y="766" width="1" height="39" fill="#d9463e"/>
<rect x="259.0" y="786" width="1" height="19" fill="#d9463e"/>
<rect x="266.0" y="805" width="1" height="4" fill="#5e9e58"/>
<rect x="273.0" y="805" width="1" height="17" fill="#5e9e58"/>
<rect x="280.0" y="805" width="1" height="20" fill="#5e9e58"/>
<rect x="287.0" y="805" width="1" height="15" fill="#5e9e58"/>
<rect x="294.0" y="796" width="1" height="9" fill="#d9463e"/>
<rect x="301.0" y="780" width="1" height="25" fill="#d9463e"/>
<rect x="308.0" y="753" width="1" height="52" fill="#d9463e"/>
<rect x="315.0" y="743" width="1" height="62" fill="#d9463e"/>
<rect x="322.0" y="771" width="1" height="34" fill="#d9463e"/>
<rect x="329.0" y="789" width="1" height="16" fill="#d9463e"/>
<rect x="336.0" y="801" width="1" height="4" fill="#d9463e"/>
<rect x="343.0" y="805" width="1" height="15" fill="#5e9e58"/>
<rect x="350.0" y="805" width="1" height="28" fill="#5e9e58"/>
<rect x="357.0" y="805" width="1" height="30" fill="#5e9e58"/>
<rect x="364.0" y="805" width="1" height="24" fill="#5e9e58"/>
<rect x="371.0" y="805" width="1" height="28" fill="#5e9e58"/>
<rect x="378.0" y="805" width="1" height="34" fill="#5e9e58"/>
<rect x="385.0" y="805" width="1" height="26" fill="#5e9e58"/>
<rect x="392.0" y="805" width="1" height="26" fill="#5e9e58"/>
<rect x="399.0" y="805" width="1" height="19" fill="#5e9e58"/>
<rect x="406.0" y="805" width="1" height="9" fill="#5e9e58"/>
<rect x="413.0" y="805" width="1" height="6" fill="#5e9e58"/>
<rect x="420.0" y="798" width="1" height="7" fill="#d9463e"/>
<rect x="427.0" y="805" width="1" height="7" fill="#5e9e58"/>
<rect x="434.0" y="803" width="1" height="2" fill="#d9463e"/>
<rect x="441.0" y="803" width="1" height="2" fill="#d9463e"/>
<rect x="448.0" y="804" width="1" height="1" fill="#d9463e"/>
<rect x="455.0" y="805" width="1" height="7" fill="#5e9e58"/>
<rect x="462.0" y="805" width="1" height="10" fill="#5e9e58"/>
<rect x="469.0" y="805" width="1" height="14" fill="#5e9e58"/>
<rect x="476.0" y="805" width="1" height="2" fill="#5e9e58"/>
<rect x="483.0" y="803" width="1" height="2" fill="#d9463e"/>
<rect x="490.0" y="798" width="1" height="7" fill="#d9463e"/>
<rect x="497.0" y="805" width="1" height="3" fill="#5e9e58"/>
<rect x="504.0" y="805" width="1" height="13" fill="#5e9e58"/>
<rect x="511.0" y="805" width="1" height="10" fill="#5e9e58"/>
<rect x="518.0" y="805" width="1" height="6" fill="#5e9e58"/>
<rect x="525.0" y="805" width="1" height="9" fill="#5e9e58"/>
<rect x="532.0" y="805" width="1" height="8" fill="#5e9e58"/>
<rect x="539.0" y="805" width="1" height="11" fill="#5e9e58"/>
<rect x="546.0" y="805" width="1" height="25" fill="#5e9e58"/>
<rect x="553.0" y="805" width="1" height="23" fill="#5e9e58"/>
<rect x="560.0" y="805" width="1" height="12" fill="#5e9e58"/>
<rect x="567.0" y="802" width="1" height="3" fill="#d9463e"/>
<rect x="574.0" y="801" width="1" height="4" fill="#d9463e"/>
<rect x="581.0" y="802" width="1" height="3" fill="#d9463e"/>
<rect x="588.0" y="789" width="1" height="16" fill="#d9463e"/>
<rect x="595.0" y="772" width="1" height="33" fill="#d9463e"/>
<rect x="602.0" y="771" width="1" height="34" fill="#d9463e"/>
<rect x="609.0" y="777" width="1" height="28" fill="#d9463e"/>
<rect x="616.0" y="785" width="1" height="20" fill="#d9463e"/>
<rect x="623.0" y="793" width="1" height="12" fill="#d9463e"/>
<rect x="630.0" y="796" width="1" height="9" fill="#d9463e"/>
<rect x="637.0" y="801" width="1" height="4" fill="#d9463e"/>
<rect x="644.0" y="797" width="1" height="8" fill="#d9463e"/>
<rect x="651.0" y="787" width="1" height="18" fill="#d9463e"/>
<rect x="658.0" y="778" width="1" height="27" fill="#d9463e"/>
<rect x="665.0" y="766" width="1" height="39" fill="#d9463e"/>
<rect x="672.0" y="775" width="1" height="30" fill="#d9463e"/>
<rect x="679.0" y="775" width="1" height="30" fill="#d9463e"/>
<rect x="686.0" y="783" width="1" height="22" fill="#d9463e"/>
<rect x="693.0" y="798" width="1" height="7" fill="#d9463e"/>
<rect x="700.0" y="805" width="1" height="10" fill="#5e9e58"/>
<rect x="707.0" y="805" width="1" height="15" fill="#5e9e58"/>
<rect x="714.0" y="805" width="1" height="16" fill="#5e9e58"/>
<rect x="721.0" y="805" width="1" height="10" fill="#5e9e58"/>
<rect x="728.0" y="805" width="1" height="9" fill="#5e9e58"/>
<rect x="735.0" y="805" width="1" height="7" fill="#5e9e58"/>
<rect x="742.0" y="805" width="1" height="7" fill="#5e9e58"/>
<rect x="749.0" y="805" width="1" height="9" fill="#5e9e58"/>
<rect x="756.0" y="805" width="1" height="11" fill="#5e9e58"/>
<rect x="763.0" y="805" width="1" height="6" fill="#5e9e58"/>
<rect x="770.0" y="799" width="1" height="6" fill="#d9463e"/>
<rect x="777.0" y="791" width="1" height="14" fill="#d9463e"/>
<rect x="784.0" y="786" width="1" height="19" fill="#d9463e"/>
<rect x="791.0" y="780" width="1" height="25" fill="#d9463e"/>
<rect x="798.0" y="781" width="1" height="24" fill="#d9463e"/>
<rect x="805.0" y="794" width="1" height="11" fill="#d9463e"/>
<rect x="812.0" y="805" width="1" height="2" fill="#5e9e58"/>
<rect x="819.0" y="805" width="1" height="8" fill="#5e9e58"/>
<rect x="826.0" y="805" width="1" height="15" fill="#5e9e58"/>
<rect x="833.0" y="805" width="1" height="19" fill="#5e9e58"/>
<rect x="840.0" y="805" width="1" height="20" fill="#5e9e58"/>
<polyline fill="none" stroke="#000" stroke-width="1" shape-rendering="crispEdges" points="84,843.7 90,837.1 99.1,825.7 105.7,822.7 112.9,818.4 119,819.6 126.2,826.3 138.2,840.1 147.9,846.7 162.3,859.4 168.4,859 176.8,852.2 182.8,849.2 190,838.8 202,828 211.7,820.1 223.7,805.7 231.6,792.4 238.2,789.2 245.4,783.6 252,782.4 259.9,790 274.3,812.3 287.6,812.9 294.8,799 300.8,790.6 308.7,767.7 315.1,756.7 321.7,763.9 331.3,774.2 337.3,779.6 350.6,800.1 357.8,803.4 365.1,803.4 378.3,815.1 384.3,815.1 392.8,818.1 398.8,816.9 406,813.9 413.5,812.2 420.6,805.9 427.5,812.4 434.1,808.6 448.6,808.3 458.2,813.4 469,818.2 476.3,812.8 482.3,810.4 490.1,807.3 496.7,810.4 504.6,818.4 512.4,818.4 518.4,816.4 524.8,819.3 533.3,819.3 539.3,822.4 545.9,832 551.9,833.3 559.8,829.6 567,822.4 571.8,821.4 581.4,821.4 588.7,813 594.7,801 600.1,795.9 609.2,794.3 615.2,795.5 622.4,798.3 630.8,798.3 637.5,801.8 645.7,797.6 651.7,790.7 658.9,781.9 665.5,771.4 671.6,772.3 680.6,768.3 686,769 696.3,778.9 701.1,785.5 714.3,792.4 720.4,790.4 743.3,790.4 755.7,795.5 762.9,793.6 776.1,781.9 790.6,770.7 797.8,767.5 807.5,774.7 818.3,781.3 826.7,789.2 835.2,793.4 839.8,794.6"/>
<polyline fill="none" stroke="#0a0aa8" stroke-width="1" shape-rendering="crispEdges" points="84,836.5 98.5,834.7 105.7,831.1 119,827.2 128.6,827.5 138.2,829.9 155.1,839.5 172,846.7 180.4,847.7 190,846.1 202,840.6 216.5,832.2 228.6,821.9 240.6,811.1 250.2,803.3 257.5,800.8 264.7,800.2 274.3,802 288.8,806 293.6,806 300.8,802 314.5,787.4 326.5,782 337.3,780.2 343.4,781.4 362.7,792.2 391.6,805.5 402.4,809.5 414.5,809.5 422,808.8 446.1,808.6 470.2,812.2 494.3,811.6 512.4,813.6 530,816.4 544.1,820.2 556.1,824.5 582.7,822.9 589.9,820.2 598.3,814.8 610.4,808.2 622.4,804.8 629.6,803.4 639.6,803.3 660.1,795.2 664.9,792.2 681.8,782.5 691.4,780.1 697.5,780.7 714.3,784.3 726.4,786.1 750,789.5 761.7,791.2 776.1,789.2 783.4,787.6 796.6,779.5 807.5,778.3 814.7,778.7 824.3,781.3 839.8,785.5"/>
<text x="81.4" y="718" class="tt" fill="#111" textLength="150" lengthAdjust="spacingAndGlyphs">MACD(13,8,9) DIFF:0.0723</text>
<text x="238.9" y="718" class="tt" fill="#16168e" textLength="64.7" lengthAdjust="spacingAndGlyphs">DEA:0.1335</text>
<text x="315.4" y="718" class="tt" fill="#ff00ff" textLength="79.8" lengthAdjust="spacingAndGlyphs">MACD:-0.1225</text>
<g transform="translate(18.7,710.7)"><circle r="3.3" fill="none" stroke="#111" stroke-width="1"/><circle r="1.8" fill="#f00"/><line x1="0" y1="-5" x2="0" y2="-6.6" stroke="#f00" stroke-width="1" transform="rotate(0)"/><line x1="0" y1="-5" x2="0" y2="-6.6" stroke="#f00" stroke-width="1" transform="rotate(45)"/><line x1="0" y1="-5" x2="0" y2="-6.6" stroke="#f00" stroke-width="1" transform="rotate(90)"/><line x1="0" y1="-5" x2="0" y2="-6.6" stroke="#f00" stroke-width="1" transform="rotate(135)"/><line x1="0" y1="-5" x2="0" y2="-6.6" stroke="#f00" stroke-width="1" transform="rotate(180)"/><line x1="0" y1="-5" x2="0" y2="-6.6" stroke="#f00" stroke-width="1" transform="rotate(225)"/><line x1="0" y1="-5" x2="0" y2="-6.6" stroke="#f00" stroke-width="1" transform="rotate(270)"/><line x1="0" y1="-5" x2="0" y2="-6.6" stroke="#f00" stroke-width="1" transform="rotate(315)"/></g>
<line x1="9" y1="923.5" x2="996" y2="923.5" stroke="#d9dfe6"/>
<line x1="80" y1="940.5" x2="692.5" y2="940.5" stroke="#e1e6ec"/>
<line x1="161.5" y1="924" x2="161.5" y2="928" stroke="#c9d0da"/>
<text x="164.0" y="936" class="xl">2025/07</text>
<line x1="322.5" y1="924" x2="322.5" y2="928" stroke="#c9d0da"/>
<text x="325.0" y="936" class="xl">2025/08</text>
<line x1="469.5" y1="924" x2="469.5" y2="928" stroke="#c9d0da"/>
<text x="472.0" y="936" class="xl">2025/09</text>
<line x1="623.5" y1="924" x2="623.5" y2="928" stroke="#c9d0da"/>
<text x="626.0" y="936" class="xl">2025/10</text>
<line x1="784.5" y1="924" x2="784.5" y2="928" stroke="#c9d0da"/>
<text x="787.0" y="936" class="xl">2025/11</text>
<rect x="9.5" y="923.5" width="70" height="17.5" fill="#fff" stroke="#d4dae1"/>
<text x="24" y="939" class="rx">日线 ▲</text>
</svg>
<svg style="position:absolute;left:0;top:0" width="996" height="988">
<rect x="9" y="943" width="987" height="16" fill="#fff"/>
<line x1="9" y1="943.5" x2="996" y2="943.5" stroke="#d3d9e0"/>
<rect x="0" y="958" width="996" height="2" fill="#cdd4dd"/>
<rect x="10" y="944" width="39" height="14" fill="#ff6600"/>
<text x="29.5" y="956" text-anchor="middle" font-size="13" fill="#fff" font-family="Liberation Sans, sans-serif">指标</text>
<line x1="49.5" y1="944" x2="49.5" y2="958" stroke="#d3d9e0"/>
<text x="69.25" y="956" text-anchor="middle" font-size="13" fill="#1e2330" font-family="Liberation Sans, sans-serif">模板</text>
<line x1="90.5" y1="944" x2="90.5" y2="958" stroke="#d3d9e0"/>
<text x="118.45" y="955.5" text-anchor="middle" font-size="12" fill="#ff7a1a" font-family="Liberation Mono, monospace" textLength="41" lengthAdjust="spacingAndGlyphs">VIP指标</text>
<line x1="147.5" y1="944" x2="147.5" y2="958" stroke="#d3d9e0"/>
<text x="161.4" y="955.5" text-anchor="middle" font-size="12" fill="#1e2330" font-family="Liberation Mono, monospace" textLength="12" lengthAdjust="spacingAndGlyphs">MA</text>
<line x1="175.5" y1="944" x2="175.5" y2="958" stroke="#d3d9e0"/>
<text x="195.45" y="955.5" text-anchor="middle" font-size="12" fill="#1e2330" font-family="Liberation Mono, monospace" textLength="24" lengthAdjust="spacingAndGlyphs">MACD</text>
<line x1="216.5" y1="944" x2="216.5" y2="958" stroke="#d3d9e0"/>
<text x="235.65" y="955.5" text-anchor="middle" font-size="12" fill="#1e2330" font-family="Liberation Mono, monospace" textLength="24" lengthAdjust="spacingAndGlyphs">BOLL</text>
<line x1="256.5" y1="944" x2="256.5" y2="958" stroke="#d3d9e0"/>
<text x="272.8" y="955.5" text-anchor="middle" font-size="12" fill="#1e2330" font-family="Liberation Mono, monospace" textLength="18" lengthAdjust="spacingAndGlyphs">VOL</text>
<line x1="290.5" y1="944" x2="290.5" y2="958" stroke="#d3d9e0"/>
<text x="309.35" y="955.5" text-anchor="middle" font-size="12" fill="#1e2330" font-family="Liberation Mono, monospace" textLength="24" lengthAdjust="spacingAndGlyphs">BIAS</text>
<line x1="329.5" y1="944" x2="329.5" y2="958" stroke="#d3d9e0"/>
<text x="346.35" y="955.5" text-anchor="middle" font-size="12" fill="#1e2330" font-family="Liberation Mono, monospace" textLength="18" lengthAdjust="spacingAndGlyphs">CCI</text>
<line x1="364.5" y1="944" x2="364.5" y2="958" stroke="#d3d9e0"/>
<text x="380.75" y="955.5" text-anchor="middle" font-size="12" fill="#1e2330" font-family="Liberation Mono, monospace" textLength="18" lengthAdjust="spacingAndGlyphs">KDJ</text>
<line x1="398.5" y1="944" x2="398.5" y2="958" stroke="#d3d9e0"/>
<text x="417.5" y="955.5" text-anchor="middle" font-size="12" fill="#1e2330" font-family="Liberation Mono, monospace" textLength="18" lengthAdjust="spacingAndGlyphs">LW&amp;</text>
<line x1="437.5" y1="944" x2="437.5" y2="958" stroke="#d3d9e0"/>
<text x="454.5" y="955.5" text-anchor="middle" font-size="12" fill="#1e2330" font-family="Liberation Mono, monospace" textLength="18" lengthAdjust="spacingAndGlyphs">RSI</text>
<line x1="472.5" y1="944" x2="472.5" y2="958" stroke="#d3d9e0"/>
<text x="485.75" y="955.5" text-anchor="middle" font-size="12" fill="#1e2330" font-family="Liberation Mono, monospace" textLength="12" lengthAdjust="spacingAndGlyphs">CR</text>
<line x1="500.5" y1="944" x2="500.5" y2="958" stroke="#d3d9e0"/>
<text x="516.75" y="955.5" text-anchor="middle" font-size="12" fill="#1e2330" font-family="Liberation Mono, monospace" textLength="18" lengthAdjust="spacingAndGlyphs">PSY</text>
<line x1="534.5" y1="944" x2="534.5" y2="958" stroke="#d3d9e0"/>
<text x="553.55" y="956" text-anchor="middle" font-size="13" fill="#1e2330" font-family="Liberation Sans, sans-serif">设置</text>
<line x1="573.5" y1="944" x2="573.5" y2="958" stroke="#d3d9e0"/>
</svg>
<div style="position:absolute;left:0;top:968px;width:996px;height:2px;background:#d3dae2"></div>
<div style="position:absolute;left:0;top:970px;width:36px;height:16px;border-right:1px solid #d6dce3;font-size:13px;line-height:17px;color:#333;text-indent:1px">资讯</div>
<div style="position:absolute;left:0;top:986px;width:996px;height:2px;background:#e6e9ee"></div>
<div style="position:absolute;left:732px;top:962px;width:180px;height:6px;background:#b5b6ba"></div>
<svg style="position:absolute;left:0;top:0" width="996" height="988"><path d="M810.6,966.8 L818.8,962 L825.8,962 L833.2,966.8 Z" fill="#666669"/></svg>
<div style="position:absolute;left:866px;top:933.5px;font-size:32px;letter-spacing:1.2px;color:#d8e4f4;text-shadow:1px 1px 1px #c4ae98;font-family:'Liberation Sans',sans-serif">FX678</div>
</body></html>
